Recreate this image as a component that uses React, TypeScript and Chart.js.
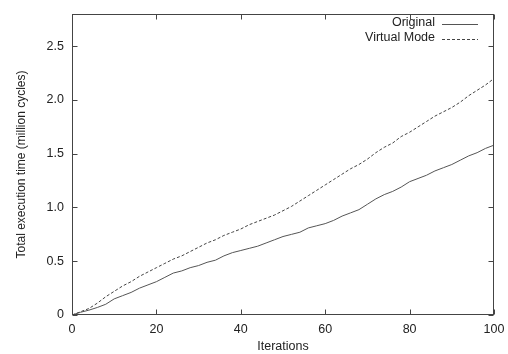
import React, { useEffect, useRef } from "react";
import { Chart, registerables } from "chart.js";

Chart.register(...registerables);

const ITERATIONS = [0, 2, 4, 6, 8, 10, 12, 14, 16, 18, 20, 22, 24, 26, 28, 30, 32, 34, 36, 38, 40, 42, 44, 46, 48, 50, 52, 54, 56, 58, 60, 62, 64, 66, 68, 70, 72, 74, 76, 78, 80, 82, 84, 86, 88, 90, 92, 94, 96, 98, 100];

const ORIGINAL = [0, 0.025, 0.045, 0.07, 0.1, 0.15, 0.18, 0.21, 0.25, 0.28, 0.31, 0.35, 0.39, 0.41, 0.44, 0.46, 0.49, 0.51, 0.55, 0.58, 0.6, 0.62, 0.64, 0.67, 0.7, 0.73, 0.75, 0.77, 0.81, 0.83, 0.85, 0.88, 0.92, 0.95, 0.98, 1.03, 1.08, 1.12, 1.15, 1.19, 1.24, 1.27, 1.3, 1.34, 1.37, 1.4, 1.44, 1.48, 1.51, 1.55, 1.58];

const VIRTUAL_MODE = [0, 0.03, 0.06, 0.11, 0.17, 0.22, 0.27, 0.31, 0.36, 0.4, 0.44, 0.48, 0.52, 0.55, 0.59, 0.63, 0.67, 0.7, 0.74, 0.77, 0.8, 0.84, 0.87, 0.9, 0.93, 0.97, 1.01, 1.06, 1.11, 1.16, 1.21, 1.26, 1.31, 1.36, 1.4, 1.45, 1.51, 1.56, 1.6, 1.66, 1.7, 1.75, 1.8, 1.85, 1.89, 1.93, 1.98, 2.04, 2.09, 2.14, 2.2];

const SERIES_LABELS = ["Original", "Virtual Mode"];
const X_TITLE = "Iterations";
const Y_TITLE = "Total execution time (million cycles)";

const FONT = '"Liberation Sans", Arial, Helvetica, sans-serif';
const TEXT = "#222";
const FRAME = "#444";

const framePlugin = {
  id: "gnuFrame",
  afterDraw(chart: any) {
    const { ctx, chartArea: a, scales } = chart;
    const L = Math.round(a.left) + 0.5;
    const R = Math.round(a.right) - 0.5;
    const T = Math.round(a.top) + 0.5;
    const B = Math.round(a.bottom) - 0.5;
    ctx.save();
    ctx.strokeStyle = FRAME;
    ctx.lineWidth = 1;
    ctx.setLineDash([]);
    ctx.strokeRect(L, T, R - L, B - T);
    const tl = 5;
    ctx.beginPath();
    scales.x.ticks.forEach((t: any) => {
      const px = Math.round(scales.x.getPixelForValue(t.value)) + 0.5;
      ctx.moveTo(px, B);
      ctx.lineTo(px, B - tl);
      ctx.moveTo(px, T);
      ctx.lineTo(px, T + tl);
    });
    scales.y.ticks.forEach((t: any) => {
      const py = Math.round(scales.y.getPixelForValue(t.value)) + 0.5;
      ctx.moveTo(L, py);
      ctx.lineTo(L + tl, py);
      ctx.moveTo(R, py);
      ctx.lineTo(R - tl, py);
    });
    ctx.stroke();

    // legend (top-right, inside plot)
    ctx.font = `12.5px ${FONT}`;
    ctx.textAlign = "right";
    ctx.textBaseline = "middle";
    const textRight = a.right - 59;
    const sx0 = a.right - 52;
    const sx1 = a.right - 16;
    chart.data.datasets.forEach((ds: any, i: number) => {
      const y = a.top + 9 + i * 15;
      ctx.fillStyle = TEXT;
      ctx.fillText(ds.label, textRight, y);
      ctx.strokeStyle = ds.borderColor;
      ctx.lineWidth = ds.borderWidth;
      ctx.setLineDash(ds.borderDash || []);
      ctx.beginPath();
      ctx.moveTo(sx0, Math.round(y + 1) + 0.5);
      ctx.lineTo(sx1, Math.round(y + 1) + 0.5);
      ctx.stroke();
    });
    ctx.restore();
  },
};

export default function App() {
  const ref = useRef<HTMLCanvasElement | null>(null);

  useEffect(() => {
    if (!ref.current) return;
    const chart = new Chart(ref.current, {
      type: "line",
      data: {
        datasets: [
          {
            label: SERIES_LABELS[0],
            data: ITERATIONS.map((x, i) => ({ x, y: ORIGINAL[i] })),
            borderColor: "#555",
            borderWidth: 1,
            pointRadius: 0,
            tension: 0,
            fill: false,
          },
          {
            label: SERIES_LABELS[1],
            data: ITERATIONS.map((x, i) => ({ x, y: VIRTUAL_MODE[i] })),
            borderColor: "#444",
            borderWidth: 1,
            borderDash: [3, 2],
            pointRadius: 0,
            tension: 0,
            fill: false,
          },
        ],
      },
      options: {
        animation: false,
        responsive: false,
        devicePixelRatio: 1,
        layout: { padding: { top: 14, right: 14, left: 0, bottom: 0 } },
        plugins: {
          legend: { display: false },
          tooltip: { enabled: false },
        },
        scales: {
          x: {
            type: "linear",
            min: 0,
            max: 100,
            grid: { display: false, drawTicks: false },
            border: { display: false },
            ticks: {
              stepSize: 20,
              padding: 7,
              color: TEXT,
              font: { family: FONT, size: 12.5 },
              maxRotation: 0,
            },
            title: {
              display: true,
              text: X_TITLE,
              color: TEXT,
              font: { family: FONT, size: 12.5 },
              padding: { top: 0, bottom: 0 },
            },
            afterFit: (s: any) => {
              s.height = 39;
              s.paddingLeft = 0;
              s.paddingRight = 0;
            },
          },
          y: {
            type: "linear",
            min: 0,
            max: 2.8,
            grid: { display: false, drawTicks: false },
            border: { display: false },
            ticks: {
              stepSize: 0.5,
              includeBounds: false,
              padding: 8,
              color: TEXT,
              font: { family: FONT, size: 12.5 },
            },
            title: {
              display: true,
              text: Y_TITLE,
              color: TEXT,
              font: { family: FONT, size: 12 },
              padding: { top: 14, bottom: 0 },
            },
            afterFit: (s: any) => {
              s.width = 72;
              s.paddingTop = 0;
              s.paddingBottom = 0;
            },
          },
        },
      },
      plugins: [framePlugin],
    });
    return () => chart.destroy();
  }, []);

  return (
    <div style={{ position: "absolute", left: 0, top: 0, width: 508, height: 354, background: "#fff" }}>
      <canvas ref={ref} width={508} height={354} />
    </div>
  );
}
